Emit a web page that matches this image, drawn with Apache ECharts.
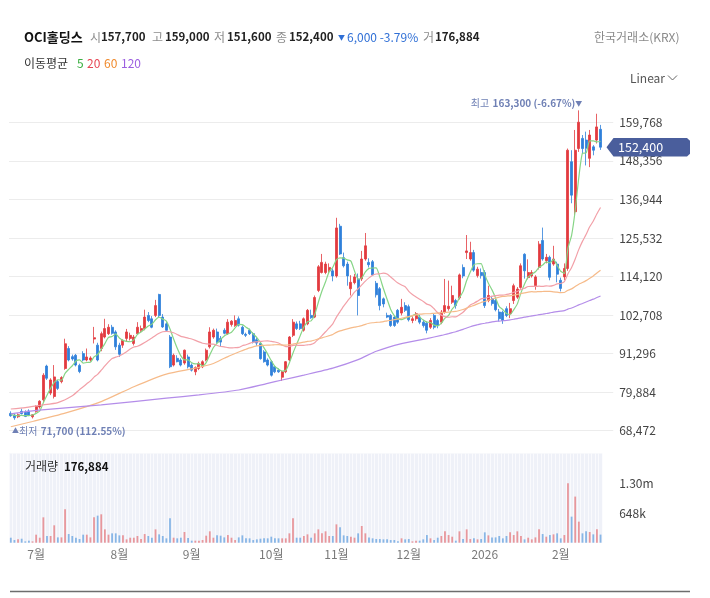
<!DOCTYPE html>
<html>
<head>
<meta charset="utf-8">
<script src="https://cdn.jsdelivr.net/npm/echarts@6/dist/echarts.min.js"></script>
<style>
html,body{margin:0;padding:0;background:#fff;}
#c{width:710px;height:598px;}
</style>
</head>
<body>
<div id="c"></div>
<script>
// ---------- data ----------
const monthDays = [
  ['2025-06', [20,23,24,25,26,27,30]],
  ['2025-07', [1,2,3,4,7,8,9,10,11,14,15,16,17,18,21,22,23,24,25,28,29,30,31]],
  ['2025-08', [1,4,5,6,7,8,11,12,13,14,18,19,20,21,22,25,26,27,28,29]],
  ['2025-09', [1,2,3,4,5,8,9,10,11,12,15,16,17,18,19,22,23,24,25,26,29,30]],
  ['2025-10', [1,2,10,13,14,15,16,17,20,21,22,23,24,27,28,29,30,31]],
  ['2025-11', [3,4,5,6,7,10,11,12,13,14,17,18,19,20,21,24,25,26,27,28]],
  ['2025-12', [1,2,3,4,5,8,9,10,11,12,15,16,17,18,19,22,23,24,26,29,30]],
  ['2026-01', [2,5,6,7,8,9,12,13,14,15,16,19,20,21,22,23,26,27,28,29,30]],
  ['2026-02', [2,3,4,5,6,9,10,11,12,13,19,20]]
];
const categories = [];
monthDays.forEach(([ym, days]) => days.forEach(d => categories.push(ym + '-' + String(d).padStart(2, '0'))));

const opens = [73600,73100,72600,74200,73900,74300,72600,74200,75500,77600,
87600,79600,78600,83000,83000,86900,92800,90400,90800,87800,
91300,89400,89400,95600,93800,92800,96200,97200,99100,97700,
93800,93800,95800,95800,94300,97200,98200,98700,102600,101600,
102600,108800,102100,100100,96200,87900,89900,89400,88500,90300,
87900,85900,86900,87400,89400,93300,96200,97700,95800,98200,
97200,99900,99600,101600,99100,97000,98200,97200,95400,94300,
91800,89400,88900,87400,86400,84300,85900,89400,96700,100100,
100100,98200,100100,102600,102100,110000,115300,115300,115800,115800,
114300,129000,119700,117800,110500,112300,113400,113400,119300,118300,
118500,112100,110500,107500,102600,102600,102100,104100,103300,105500,
105200,101100,101600,102100,100600,100300,99100,102600,101100,100600,
103600,104600,106500,107000,107800,116800,121200,119300,121200,114400,
115300,115300,107000,107600,107000,103600,103500,104600,103100,107000,
108000,110900,120700,113800,114300,111400,116800,124800,118800,119800,
117800,117800,113000,114000,116500,148100,133300,152000,155000,154500,
149100,152500,154500,157700];

const highs = [74200,73500,73600,75000,74500,74800,73400,76000,77500,85500,
88000,84000,87900,83500,84600,95700,93500,91000,91200,88300,
92000,92800,90500,99200,94500,97800,101600,100000,99800,98200,
94500,95500,98600,97500,96800,100600,99600,104300,103600,102400,
107200,109000,103000,100600,96800,91300,90800,89900,92500,91000,
88400,87500,88900,89300,92800,99100,98700,98700,96500,98800,
101500,101200,102600,102300,99600,97500,98700,97600,96000,94800,
92300,89900,89400,87800,86900,86200,89100,96500,101500,100800,
101000,102000,104500,104300,108500,117500,120800,118500,118000,116500,
131500,129700,121200,118500,114500,114900,115000,121700,127000,119500,
119000,112800,111000,107900,103400,103000,102600,104500,107500,106500,
105800,102300,103600,102800,101300,100800,101800,103300,101600,104200,
113400,112900,111400,107500,115000,117700,126400,124400,122000,117000,
116500,116000,111400,108400,107500,104500,104000,105300,106300,112000,
111000,118000,121000,119200,116000,114500,124600,128600,120800,120300,
123200,118500,113800,118000,152000,151500,157500,163300,156000,157000,
157500,153000,162300,159000];

const lows = [72600,71700,72200,73300,72500,72800,72100,73800,75000,77000,
83500,79000,78000,80500,82500,86500,89000,89200,87500,85500,
89000,89000,88900,94300,89000,92000,95800,96800,96900,92400,
90300,93000,95000,95200,93700,96800,97600,98200,100600,98800,
102100,102100,98900,97800,87000,87500,88700,87500,88000,86900,
86000,84900,86400,87000,89000,92800,95700,94300,93400,97000,
96800,99300,99200,99300,96800,96200,96800,94300,93600,89500,
88600,87500,84500,85500,85600,83200,85500,89000,96200,98300,
98300,97800,99700,101600,101800,109500,115000,114800,115000,112700,
113800,120500,116800,111400,108500,111800,102600,112800,118800,116800,
114300,107900,104100,105000,101800,99200,99200,100100,102600,103600,
100800,100300,101000,100000,99000,97300,98600,98500,98800,100000,
103100,104000,106000,104600,107300,113600,119300,118800,115500,113800,
113500,104800,106500,105500,103800,100800,100100,102100,101800,106000,
107500,110500,113500,113300,113800,110200,116200,118800,118000,113000,
117300,112400,109700,113000,115800,135800,132300,151000,150500,147000,
146500,150000,153500,151600];

const closes = [72900,72300,73200,73500,72700,73000,73200,75600,77200,84900,
84000,83500,84400,81000,84200,94200,89400,89700,87900,86000,
89400,90300,90000,96000,89400,97200,98700,99100,97300,93300,
91100,95200,97700,96700,96200,99100,98700,102100,101100,99100,
105500,102600,99200,98200,87400,90800,88900,87900,92300,87400,
86400,87200,88400,88900,92300,97700,98200,94700,94700,97300,
100600,100900,101100,99700,97200,96700,97200,94700,94400,89800,
88900,87900,84900,85900,85900,85900,88900,96200,100600,98700,
98700,101600,104100,101900,107900,117000,118300,117800,116800,114300,
128500,120800,117300,114300,112400,114000,108500,119300,123200,117600,
114600,108700,105500,106000,102100,99600,99600,100600,105000,104100,
101300,101600,103100,100600,99600,98200,101100,99100,99600,103600,
105500,105300,108500,105500,114600,114300,121700,121200,116000,116300,
114400,105500,108500,106100,104300,101600,101100,102600,104600,111400,
110400,117300,115800,115300,115300,114000,123700,119300,119800,113900,
119300,114800,110600,116500,151500,138200,151500,159800,152000,152100,
156000,151500,158400,152400];

const volumes = [109000,58000,73000,87000,29000,44000,29000,175000,109000,553000,
146000,146000,379000,116000,116000,728000,189000,146000,109000,80000,
175000,175000,116000,553000,590000,619000,291000,175000,204000,204000,
160000,160000,73000,109000,109000,146000,80000,189000,146000,109000,
291000,182000,146000,95000,531000,109000,95000,109000,233000,102000,
44000,44000,44000,58000,153000,248000,109000,160000,153000,116000,
167000,109000,58000,116000,160000,95000,95000,58000,73000,87000,
95000,95000,131000,95000,95000,95000,95000,204000,531000,109000,
109000,146000,182000,109000,204000,291000,204000,248000,146000,146000,
400000,335000,160000,146000,131000,109000,204000,364000,204000,116000,
95000,80000,80000,73000,73000,58000,58000,29000,95000,73000,
80000,29000,44000,44000,73000,167000,95000,58000,109000,146000,
248000,167000,131000,44000,248000,80000,291000,80000,95000,73000,
80000,226000,160000,116000,116000,146000,95000,146000,226000,167000,
248000,146000,73000,109000,73000,116000,291000,189000,131000,167000,
182000,204000,95000,167000,1296000,568000,1005000,459000,204000,248000,
233000,182000,291000,176884];

const ma5Read   = [[0,73300],[1,73000],[2,72900],[3,73000]];
const ma20Read  = [[0,74900],[4,75300],[8,76000],[13,76800],[17,78800]];
const ma60Read  = [[0,69650],[6,71200],[15,73680],[25,77090],[34,81500],[43,85240],[51,87000],[56,88380]];
const ma120Read = [[0,73470],[7,74500],[25,76120],[43,78090],[52,79060],[63,80530],[71,82500],[75,83470],[81,84940],[89,87000],[96,89500],[101,92000],[108,94260],[115,95740]];

const priceTicks = {min: 57060, max: 171180, step: 11412};
const volTicks = {min: 0, max: 1944000, step: 648000};

// ---------- helpers ----------
const FONT = "'Noto Sans CJK KR','Noto Sans',sans-serif";
const N = closes.length;
const fmt = v => Math.round(v).toLocaleString('en-US');
function buildMA(period, readPairs) {
  const out = new Array(N).fill(null);
  readPairs.forEach(([i, v]) => { out[i] = v; });
  for (let i = period - 1; i < N; i++) {
    let s = 0;
    for (let j = i - period + 1; j <= i; j++) s += closes[j];
    out[i] = Math.round(s / period);
  }
  return out;
}
const monthStarts = new Set();
for (let i = 1; i < N; i++) if (categories[i].slice(0, 7) !== categories[i - 1].slice(0, 7)) monthStarts.add(i);
const PAD = 3;
const axisData = categories.concat(new Array(PAD).fill(''));

const UP = '#e23a3f', DOWN = '#2f80da';
const VUP = '#e8979c', VDOWN = '#88b6e6';
const candleData = categories.map((_, i) => [opens[i], closes[i], lows[i], highs[i]]);
const maxHigh = Math.max(...highs), maxIdx = highs.indexOf(maxHigh);
const minLow = Math.min(...lows), minIdx = lows.indexOf(minLow);
const last = N - 1;
const lastClose = closes[last];
const chg = closes[last] - closes[last - 1];
const chgPct = (chg / closes[last - 1] * 100).toFixed(2);
const LBL = '#6f80b5';

// layout: same slot width in both panes
const GL = 9, SLOT = 3.618;
const volRight = 710 - (GL + N * SLOT);
const priceRight = 710 - (GL + (N + PAD) * SLOT);

const chart = echarts.init(document.getElementById('c'), null, {renderer: 'canvas'});

const lineSeries = (name, data, color) => ({
  name, type: 'line', xAxisIndex: 0, yAxisIndex: 0, data,
  symbol: 'none', showSymbol: false, connectNulls: true, smooth: 0.2, silent: true,
  lineStyle: {color, width: 1.2}, z: 3
});

const option = {
  animation: false,
  backgroundColor: '#fff',
  grid: [
    {left: GL, right: priceRight, top: 83.75, height: 385.5},
    {left: GL, right: volRight, top: 453.5, height: 89.2, show: true, backgroundColor: '#eff1f8', borderWidth: 0}
  ],
  xAxis: [
    {type: 'category', gridIndex: 0, data: axisData, boundaryGap: true,
      axisLine: {show: false}, axisTick: {show: false}, axisLabel: {show: false}, splitLine: {show: false}},
    {type: 'category', gridIndex: 1, data: categories, boundaryGap: true,
      axisLine: {show: false}, axisTick: {show: false},
      axisLabel: {
        interval: (i) => monthStarts.has(i),
        formatter: (v) => { if (!v) return ''; const p = v.split('-'); return p[1] === '01' ? p[0] : (+p[1]) + '월'; },
        color: '#7a7a7a', fontSize: 12, margin: 6, fontFamily: FONT
      },
      splitLine: {show: true, interval: 0, lineStyle: {color: '#fcfcfe', width: 0.8}}}
  ],
  yAxis: [
    {type: 'value', gridIndex: 0, position: 'right', min: priceTicks.min, max: priceTicks.max, interval: priceTicks.step,
      axisLine: {show: false}, axisTick: {show: false},
      axisLabel: {formatter: v => fmt(v), color: '#444', fontSize: 12, margin: 6, showMinLabel: false, showMaxLabel: false, fontFamily: FONT},
      splitLine: {show: true, showMinLine: false, showMaxLine: false, lineStyle: {color: '#ececec', width: 1}}},
    {type: 'value', gridIndex: 1, position: 'right', min: volTicks.min, max: volTicks.max, interval: volTicks.step,
      axisLine: {show: false}, axisTick: {show: false}, splitLine: {show: false},
      axisLabel: {showMinLabel: false, showMaxLabel: false, color: '#444', fontSize: 12, margin: volRight - priceRight + 6, fontFamily: FONT,
        formatter: v => v >= 1e6 ? (v / 1e6).toFixed(2) + 'm' : Math.round(v / 1000) + 'k'}}
  ],
  series: [
    {type: 'candlestick', xAxisIndex: 0, yAxisIndex: 0, data: candleData, barWidth: 2.5,
      itemStyle: {color: UP, color0: DOWN, borderColor: UP, borderColor0: DOWN, borderWidth: 0.8},
      markPoint: {
        silent: true, animation: false,
        data: [
          {coord: [maxIdx, maxHigh], symbol: 'circle', symbolSize: 1, itemStyle: {color: 'rgba(0,0,0,0)'},
            label: {show: true, position: 'left', distance: 0, offset: [4, -7],
              formatter: `{l|최고} {b|${fmt(maxHigh)} (${((lastClose - maxHigh) / maxHigh * 100).toFixed(2)}%)}{a|▼}`,
              rich: {l: {color: LBL, fontSize: 10, fontFamily: FONT}, b: {color: LBL, fontSize: 10, fontWeight: 'bold', fontFamily: FONT}, a: {color: LBL, fontSize: 7, fontFamily: FONT}}}},
          {coord: [minIdx, minLow], symbol: 'circle', symbolSize: 1, itemStyle: {color: 'rgba(0,0,0,0)'},
            label: {show: true, position: 'right', distance: 0, offset: [-3, 11],
              formatter: `{a|▲}{l|최저} {b|${fmt(minLow)} (${((lastClose - minLow) / minLow * 100).toFixed(2)}%)}`,
              rich: {l: {color: LBL, fontSize: 10, fontFamily: FONT}, b: {color: LBL, fontSize: 10, fontWeight: 'bold', fontFamily: FONT}, a: {color: LBL, fontSize: 7, fontFamily: FONT}}}}
        ]
      }
    },
    lineSeries('MA5', buildMA(5, ma5Read), '#86d586'),
    lineSeries('MA20', buildMA(20, ma20Read), '#f2a0a8'),
    lineSeries('MA60', buildMA(60, ma60Read), '#f6bb8a'),
    lineSeries('MA120', buildMA(120, ma120Read), '#b48de9'),
    {type: 'bar', xAxisIndex: 1, yAxisIndex: 1, data: volumes, barWidth: 1.8, silent: true,
      itemStyle: {color: p => closes[p.dataIndex] >= opens[p.dataIndex] ? VUP : VDOWN}}
  ]
};
chart.setOption(option);

// ---------- texts & price tag ----------
const tagY = chart.convertToPixel({xAxisIndex: 0, yAxisIndex: 0}, [last, lastClose])[1];
function txt(x, y, text, fill, font, align) {
  return {type: 'text', x, y, silent: true, z: 10,
    style: {text, fill, font: font + ' ' + FONT, textAlign: align || 'left', textVerticalAlign: 'middle'}};
}
const G = '#8c8c8c', V = '#222', BLUE = '#2f6fd6';
const VF = 'bold 11.5px';
const graphics = [
  txt(24, 37, 'OCI홀딩스', '#111', 'bold 13px'),
  txt(90, 37, '시', G, '12px'), txt(101, 37, fmt(opens[last]), V, VF),
  txt(152, 37, '고', G, '12px'), txt(165, 37, fmt(highs[last]), V, VF),
  txt(214, 37, '저', G, '12px'), txt(227, 37, fmt(lows[last]), V, VF),
  txt(276, 37, '종', G, '12px'), txt(289, 37, fmt(closes[last]), V, VF),
  txt(338, 37, chg <= 0 ? '▼' : '▲', BLUE, '7px'),
  txt(347, 37, fmt(Math.abs(chg)) + ' ' + (chg <= 0 ? '-' : '+') + Math.abs(chgPct) + '%', BLUE, '12px'),
  txt(423, 37, '거', G, '12px'), txt(435, 37, fmt(volumes[last]), V, VF),
  txt(679.5, 37, '한국거래소(KRX)', '#8a8a8a', '12px', 'right'),
  txt(24, 63, '이동평균', '#333', '12px'),
  txt(77, 63, '5', '#3cb043', '12px'),
  txt(87, 63, '20', '#e64553', '12px'),
  txt(104, 63, '60', '#f08a2c', '12px'),
  txt(121, 63, '120', '#9c5fe0', '12px'),
  txt(630, 78, 'Linear', '#555', '12px'),
  {type: 'polyline', silent: true, z: 10, shape: {points: [[668, 75.5], [672.5, 80], [677, 75.5]]}, style: {stroke: '#666', lineWidth: 1, fill: null}},
  txt(25, 466.5, '거래량', '#333', '12px'),
  txt(64, 466.5, fmt(volumes[last]), '#111', VF),
  {type: 'polygon', silent: true, z: 20,
    shape: {points: [[606.5, tagY], [613.5, tagY - 9.2], [687, tagY - 9.2], [690, tagY - 6.5], [690, tagY + 6.5], [687, tagY + 9.2], [613.5, tagY + 9.2]]},
    style: {fill: '#4a5e9c'}},
  Object.assign(txt(618, tagY + 0.5, fmt(lastClose), '#fff', '12.5px'), {z: 21}),
  {type: 'line', silent: true, z: 10, shape: {x1: 10, y1: 591.5, x2: 690, y2: 591.5}, style: {stroke: '#6d6d6d', lineWidth: 1.5}}
];
chart.setOption({graphic: graphics});
</script>
</body>
</html>
